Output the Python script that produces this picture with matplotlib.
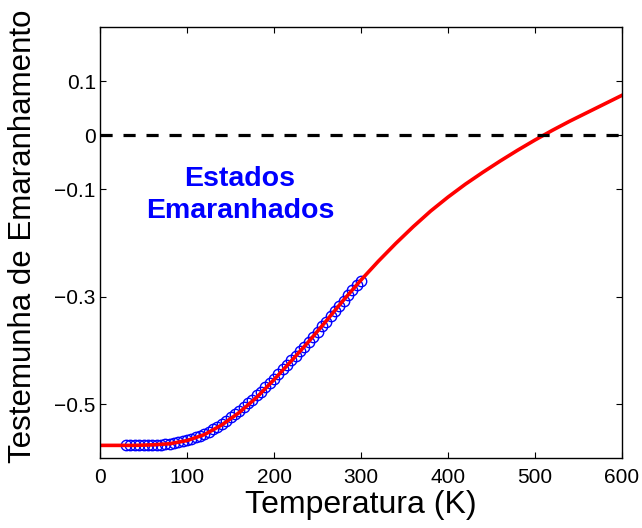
import matplotlib

matplotlib.use("Agg")
import matplotlib.pyplot as plt

plt.rcParams["font.family"] = ["Liberation Sans", "DejaVu Sans"]

# curva ajustada
T_fit = [0, 20, 40, 60, 80, 100, 120, 140, 160, 180, 200, 220, 240, 260, 280,
         300, 320, 340, 360, 380, 400, 420, 440, 460, 480, 500, 520, 540, 560,
         580, 600]
W_fit = [-0.576, -0.576, -0.576, -0.575, -0.573, -0.567, -0.556, -0.538,
         -0.515, -0.487, -0.454, -0.419, -0.383, -0.345, -0.306, -0.269,
         -0.234, -0.201, -0.170, -0.141, -0.115, -0.091, -0.069, -0.048,
         -0.028, -0.009, 0.009, 0.026, 0.042, 0.058, 0.074]

# pontos experimentais
T_exp = [30, 35, 40, 45, 50, 55, 60, 65, 70, 75, 80, 85, 90, 95, 100, 105,
         110, 115, 120, 125, 130, 135, 140, 145, 150, 155, 160, 165, 170, 175,
         180, 185, 190, 195, 200, 205, 210, 215, 220, 225, 230, 235, 240, 245,
         250, 255, 260, 265, 270, 275, 280, 285, 290, 295, 300]
W_exp = [-0.576, -0.576, -0.576, -0.576, -0.576, -0.576, -0.575, -0.575,
         -0.575, -0.574, -0.573, -0.572, -0.570, -0.568, -0.566, -0.564,
         -0.561, -0.558, -0.555, -0.551, -0.546, -0.541, -0.536, -0.530,
         -0.524, -0.518, -0.513, -0.505, -0.498, -0.491, -0.483, -0.476,
         -0.468, -0.460, -0.452, -0.443, -0.435, -0.427, -0.418, -0.410,
         -0.401, -0.393, -0.384, -0.374, -0.365, -0.355, -0.346, -0.336,
         -0.326, -0.317, -0.307, -0.297, -0.288, -0.278, -0.270]

xticks = [0, 100, 200, 300, 400, 500, 600]
yticks = [0.1, 0, -0.1, -0.3, -0.5]
ytick_labels = ["0.1", "0", "\u22120.1", "\u22120.3", "\u22120.5"]

fig = plt.figure(figsize=(6.42, 5.28), dpi=100)
ax = fig.add_axes([0.1558, 0.132, 0.8130, 0.816])

ax.plot(T_exp, W_exp, "o", mfc="none", mec="#0000FF", ms=7.5, mew=1.0)
ax.plot(T_fit, W_fit, color="#FF0000", lw=2.6, solid_joinstyle="round")
ax.plot([0, 600], [0, 0], "--", color="black", lw=2.3, dashes=(3.8, 3.4))

ax.text(161, -0.112, "Estados\nEmaranhados", color="#0000FF", fontsize=20.5,
        fontweight="bold", ha="center", va="center", linespacing=1.3)

ax.set_xlim(0, 600)
ax.set_ylim(-0.6, 0.2)
ax.set_xticks(xticks)
ax.set_yticks(yticks)
ax.set_yticklabels(ytick_labels)
ax.tick_params(direction="in", top=True, right=True, length=4, width=0.8,
               labelsize=15)
ax.tick_params(axis="y", pad=3)
ax.tick_params(axis="x", pad=7)
ax.set_xlabel("Temperatura (K)", fontsize=23, labelpad=2)
ax.set_ylabel("Testemunha de Emaranhamento", fontsize=22.5)
ax.yaxis.set_label_coords(-0.118, 0.515)
for s in ax.spines.values():
    s.set_linewidth(1.0)

fig.savefig("out.png")
